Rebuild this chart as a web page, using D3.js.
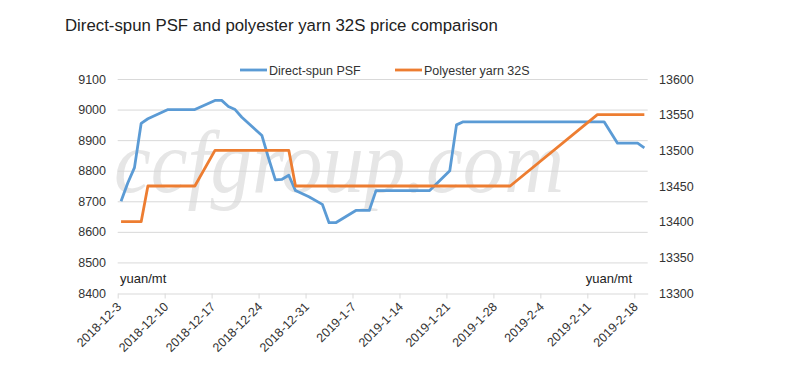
<!DOCTYPE html>
<html>
<head>
<meta charset="utf-8">
<title>PSF vs yarn</title>
<script src="https://cdn.jsdelivr.net/npm/d3@7"></script>
<style>
body { margin: 0; background: #fff; }
svg { display: block; font-family: "Liberation Sans", Arial, sans-serif; }
</style>
</head>
<body>
<div id="chart"></div>
<script>
// trading days shown in the chart
const dates = [
  "2018-12-03","2018-12-04","2018-12-05","2018-12-06","2018-12-07",
  "2018-12-10","2018-12-11","2018-12-12","2018-12-13","2018-12-14",
  "2018-12-17","2018-12-18","2018-12-19","2018-12-20","2018-12-21",
  "2018-12-24","2018-12-25","2018-12-26","2018-12-27","2018-12-28",
  "2018-12-29","2018-12-31",
  "2019-01-02","2019-01-03","2019-01-04",
  "2019-01-07","2019-01-08","2019-01-09","2019-01-10","2019-01-11",
  "2019-01-14","2019-01-15","2019-01-16","2019-01-17","2019-01-18",
  "2019-01-21","2019-01-22","2019-01-23","2019-01-24","2019-01-25",
  "2019-01-28","2019-01-29","2019-01-30","2019-01-31","2019-02-01",
  "2019-02-11","2019-02-12","2019-02-13","2019-02-14","2019-02-15",
  "2019-02-18","2019-02-19"
];
// Direct-spun PSF, left axis
const psf = [
  8700, 8760, 8810, 8955, 8970,
  9000, 9000, 9000, 9000, 9000,
  9030, 9030, 9010, 9000, 8975,
  8915, 8840, 8770, 8772, 8785,
  8735, 8715,
  8690, 8630, 8630,
  8670, 8670, 8670, 8735, 8735,
  8735, 8735, 8735, 8735, 8735,
  8800, 8950, 8960, 8960, 8960,
  8960, 8960, 8960, 8960, 8960,
  8960, 8960, 8960, 8925, 8890,
  8890, 8875
];
// Polyester yarn 32S, right axis (null = no quote)
const yarn = [
  13400, 13400, 13400, 13400, 13450,
  13450, 13450, 13450, 13450, 13450,
  13500, 13500, 13500, 13500, 13500,
  13500, 13500, 13500, 13500, 13500,
  13450, 13450,
  13450, 13450, 13450,
  13450, 13450, 13450, 13450, 13450,
  13450, 13450, 13450, 13450, 13450,
  13450, 13450, 13450, 13450, 13450,
  13450, 13450, 13450, null, null,
  null, 13550, 13550, 13550, 13550,
  13550, 13550
];
const leftTicks = [8400, 8500, 8600, 8700, 8800, 8900, 9000, 9100];
const rightTicks = [13300, 13350, 13400, 13450, 13500, 13550, 13600];
const seriesNames = ["Direct-spun PSF", "Polyester yarn 32S"];
const colors = ["#5b9bd5", "#ed7d31"];

const width = 785, height = 384;
const parse = d3.timeParse("%Y-%m-%d");
const fmt = d3.timeFormat("%Y-%-m-%-d");

const svg = d3.select("#chart").append("svg")
    .attr("width", width).attr("height", height);

const x = d3.scaleTime()
    .domain([parse("2018-12-03"), parse("2019-02-20")])
    .range([117.7, 647.7]);
const yL = d3.scaleLinear().domain([8400, 9100]).range([293, 79]);
const yR = d3.scaleLinear().domain([13300, 13600]).range([293, 79]);

// title
svg.append("text")
    .attr("x", 65).attr("y", 31)
    .attr("font-size", 16.8)
    .attr("fill", "#222")
    .text("Direct-spun PSF and polyester yarn 32S price comparison");

// gridlines
svg.append("g").selectAll("line")
  .data(leftTicks.slice(1))
  .join("line")
    .attr("x1", x.range()[0]).attr("x2", x.range()[1])
    .attr("y1", d => yL(d) + 0.5).attr("y2", d => yL(d) + 0.5)
    .attr("stroke", "#d9d9d9");

// watermark
svg.append("text")
    .attr("x", 114).attr("y", 192)
    .attr("font-family", "Liberation Serif, serif")
    .attr("font-style", "italic")
    .attr("font-size", 88)
    .attr("textLength", 450)
    .attr("lengthAdjust", "spacingAndGlyphs")
    .attr("fill", "#d6d6d6")
    .attr("opacity", 0.6)
    .text("ccfgroup.com");

// x axis
const weeks = d3.timeMonday.range(parse("2018-12-03"), parse("2019-02-19"));
const xAxis = d3.axisBottom(x).tickValues(weeks).tickFormat(fmt).tickSize(5).tickSizeOuter(0);
const gx = svg.append("g").attr("transform", "translate(0,293.5)").call(xAxis);
gx.select(".domain").attr("stroke", "#d9d9d9");
gx.selectAll(".tick line").attr("stroke", "#d9d9d9");
gx.selectAll(".tick text")
    .attr("font-size", 12.5)
    .attr("font-family", "Liberation Sans, Arial, sans-serif")
    .attr("fill", "#333")
    .attr("text-anchor", "end")
    .attr("dy", null)
    .attr("y", 0)
    .attr("transform", "translate(4,14) rotate(-45)");

// left axis
const gl = svg.append("g").attr("transform", "translate(106,0)")
    .call(d3.axisLeft(yL).tickValues(leftTicks).tickFormat(d3.format("d")).tickSize(0).tickPadding(0));
gl.select(".domain").remove();
gl.selectAll("text").attr("font-size", 12.5).attr("fill", "#333")
    .attr("font-family", "Liberation Sans, Arial, sans-serif");

// right axis
const gr = svg.append("g").attr("transform", "translate(659,0)")
    .call(d3.axisRight(yR).tickValues(rightTicks).tickFormat(d3.format("d")).tickSize(0).tickPadding(0));
gr.select(".domain").remove();
gr.selectAll("text").attr("font-size", 12.5).attr("fill", "#333")
    .attr("font-family", "Liberation Sans, Arial, sans-serif");

// unit labels
svg.append("text").attr("x", 120).attr("y", 283)
    .attr("font-size", 13).attr("fill", "#222").text("yuan/mt");
svg.append("text").attr("x", 632).attr("y", 283).attr("text-anchor", "end")
    .attr("font-size", 13).attr("fill", "#222").text("yuan/mt");

// lines: points sit in the middle of their day
const noon = d => d3.timeHour.offset(parse(d), 12);
const psfPts = dates.map((d, i) => ({ t: noon(d), v: psf[i] }));
const yarnPts = dates.map((d, i) => ({ t: noon(d), v: yarn[i] })).filter(p => p.v != null);

svg.append("path")
    .datum(psfPts)
    .attr("fill", "none")
    .attr("stroke", colors[0])
    .attr("stroke-width", 2.8)
    .attr("stroke-linejoin", "round")
    .attr("d", d3.line().x(p => x(p.t)).y(p => yL(p.v)));

svg.append("path")
    .datum(yarnPts)
    .attr("fill", "none")
    .attr("stroke", colors[1])
    .attr("stroke-width", 2.8)
    .attr("stroke-linejoin", "round")
    .attr("d", d3.line().x(p => x(p.t)).y(p => yR(p.v)));

// legend
const legendX = [240, 395];
const lg = svg.append("g").selectAll("g")
  .data(seriesNames)
  .join("g")
    .attr("transform", (d, i) => `translate(${legendX[i]},70)`);
lg.append("line")
    .attr("x1", 0).attr("x2", 27)
    .attr("stroke", (d, i) => colors[i])
    .attr("stroke-width", 2.8);
lg.append("text")
    .attr("x", 29).attr("y", 4.5)
    .attr("font-size", 12.5)
    .attr("fill", "#333")
    .text(d => d);
</script>
</body>
</html>
